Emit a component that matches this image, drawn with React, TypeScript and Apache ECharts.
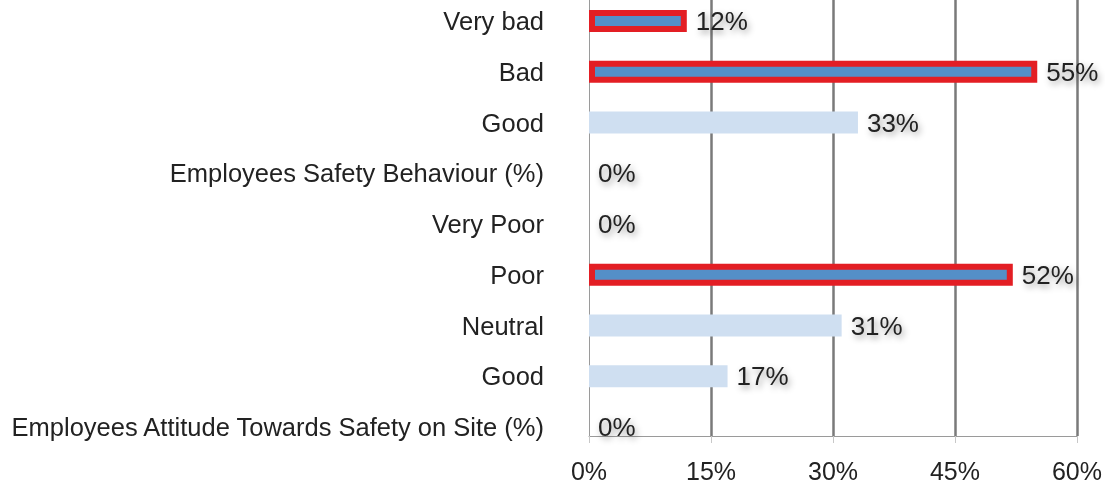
import React, { useEffect, useRef } from "react";
import * as echarts from "echarts";

const categories = [
  "Very bad",
  "Bad",
  "Good",
  "Employees Safety Behaviour (%)",
  "Very Poor",
  "Poor",
  "Neutral",
  "Good",
  "Employees Attitude Towards Safety on Site (%)",
];
const values = [12, 55, 33, 0, 0, 52, 31, 17, 0];
const highlighted = [true, true, false, false, false, true, false, false, false];
const xTicks = [0, 15, 30, 45, 60];

const FONT = "'Liberation Sans', Arial, Helvetica, sans-serif";

export default function App() {
  const ref = useRef<HTMLDivElement>(null);
  useEffect(() => {
    if (!ref.current) return;
    const chart = echarts.init(ref.current, null, { renderer: "svg" });
    const labelStyle = {
      show: true,
      position: "right",
      distance: 9,
      formatter: (p: any) => `${p.value}%`,
      fontSize: 26,
      color: "#222",
      fontFamily: FONT,
      textShadowColor: "rgba(0,0,0,0.4)",
      textShadowBlur: 6,
      textShadowOffsetX: 2,
      textShadowOffsetY: 3,
    };
    chart.setOption({
      animation: false,
      textStyle: { fontFamily: FONT },
      grid: [
        { left: 589, right: 27, top: 0, bottom: 52 },
        { left: 589, right: 27, top: 21, bottom: 61 },
      ],
      xAxis: [
        {
          gridIndex: 0,
          type: "value",
          min: xTicks[0],
          max: xTicks[xTicks.length - 1],
          interval: 15,
          axisLine: { show: true, lineStyle: { color: "#9a9a9a", width: 1 } },
          axisTick: { show: true, length: 7, lineStyle: { color: "#c8c8c8" } },
          axisLabel: {
            formatter: "{value}%",
            fontSize: 25,
            color: "#222",
            margin: 22,
            fontFamily: FONT,
          },
          splitLine: {
            show: true,
            showMinLine: false,
            lineStyle: { color: "#7a7a7a", width: 2.5 },
          },
        },
        {
          gridIndex: 1,
          type: "value",
          min: 0,
          max: 60,
          show: false,
        },
      ],
      yAxis: [
        {
          gridIndex: 0,
          type: "value",
          axisLine: { show: true, lineStyle: { color: "#9a9a9a", width: 1 } },
          axisLabel: { show: false },
          axisTick: { show: false },
          splitLine: { show: false },
        },
        {
          gridIndex: 1,
          type: "category",
          inverse: true,
          boundaryGap: false,
          data: categories,
          axisLine: { show: false },
          axisTick: { show: false },
          splitLine: { show: false },
          axisLabel: {
            fontSize: 25.5,
            color: "#222",
            margin: 45,
            fontFamily: FONT,
          },
        },
      ],
      series: [
        {
          type: "bar",
          xAxisIndex: 1,
          yAxisIndex: 1,
          barWidth: 22,
          barGap: "-100%",
          data: values.map((v, i) => (highlighted[i] ? "-" : v)),
          itemStyle: { color: "#cfdff1" },
          label: labelStyle,
        },
        {
          type: "bar",
          xAxisIndex: 1,
          yAxisIndex: 1,
          barWidth: 22,
          barGap: "-100%",
          data: values.map((v, i) => (highlighted[i] ? v : "-")),
          itemStyle: { color: "#548fc8", borderColor: "#e31e24", borderWidth: 6 },
          label: labelStyle,
        },
      ],
    });
    return () => chart.dispose();
  }, []);
  return (
    <div
      ref={ref}
      style={{ position: "fixed", left: 0, top: 0, width: 1105, height: 488 }}
    />
  );
}
